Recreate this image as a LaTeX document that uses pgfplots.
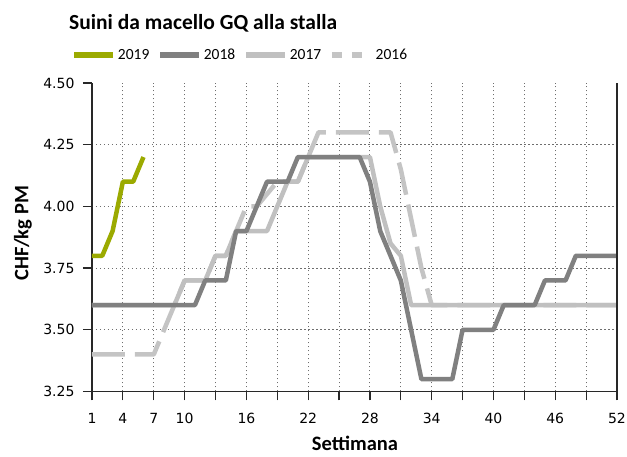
\documentclass[border=0pt]{standalone}
\usepackage{fontspec}
\setmainfont{Carlito}
\newfontfamily\dejavu{DejaVu Sans}
\usepackage{pgfplots}
\pgfplotsset{compat=1.18}

\definecolor{c2019}{RGB}{155,170,0}
\definecolor{c2018}{RGB}{128,128,128}
\definecolor{c2017}{RGB}{192,192,192}
\definecolor{c2016}{RGB}{196,196,196}
\definecolor{gridc}{RGB}{110,110,110}
\definecolor{axc}{RGB}{40,40,40}

\begin{document}
\begin{tikzpicture}
\path[use as bounding box] (-92pt,-65.5pt) rectangle (535pt,391.5pt);
\node[anchor=base west, inner sep=0pt, font=\fontsize{21.5}{24}\selectfont\bfseries] at (-23pt,361.5pt) {Suini da macello GQ alla stalla};
\begin{axis}[
  name=ax,
  scale only axis, width=525pt, height=308.5pt,
  xmin=1, xmax=52, ymin=3.25, ymax=4.5,
  axis x line*=bottom, axis y line*=left,
  axis line style={axc, line width=1.2pt},
  xtick={1,4,...,52},
  xticklabels={1,4,7,10,,16,,22,,28,,34,,40,,46,,52},
  ytick={3.25,3.5,3.75,4,4.25,4.5},
  yticklabel style={xshift=-5pt, /pgf/number format/.cd, fixed, fixed zerofill, precision=2},
  xticklabel style={yshift=-9pt},
  /pgf/number format/assume math mode=true,
  tick label style={font=\dejavu\fontsize{14}{16}\selectfont, black},
  tick align=outside, major tick length=9pt,
  tick style={axc, line width=1.2pt},
  xmajorgrids,
  minor ytick={3.5,3.75,4,4.25}, yminorgrids, minor tick length=0pt,
  grid style={gridc, line width=1pt, dash pattern=on 1.5pt off 2.5pt},
  minor grid style={gridc, line width=1pt, dash pattern=on 1.5pt off 2.5pt},
  xlabel={Settimana}, ylabel={CHF/kg PM},
  every axis x label/.style={at={(axis description cs:0.501,-0.19)}, anchor=base, font=\fontsize{20.5}{24}\selectfont\bfseries},
  every axis y label/.style={at={(axis description cs:-0.1314,0.513)}, rotate=90, anchor=center, font=\fontsize{20.5}{24}\selectfont\bfseries},
  legend columns=4,
  reverse legend,
  legend style={draw=none, fill=none, at={(axis description cs:-0.0395,1.09)}, anchor=west, inner sep=0pt,
    font=\fontsize{15.5}{18}\selectfont, /tikz/every even column/.append style={column sep=6pt}},
  legend image code/.code={\draw[#1, line width=5.5pt] (0pt,0pt) -- (39pt,0pt);},
  every axis plot/.append style={line width=4.5pt, line join=round},
]
\addplot[c2016, dash pattern=on 33pt off 10pt,
  legend image code/.code={\draw[c2016, line width=5.5pt, dash pattern=on 10pt off 10pt] (0pt,0pt) -- (39pt,0pt);}] coordinates {
(1,3.40)(2,3.40)(3,3.40)(4,3.40)(5,3.40)(6,3.40)(7,3.40)(8,3.50)(9,3.60)(10,3.70)
(11,3.70)(12,3.70)(13,3.80)(14,3.80)(15,3.90)(16,4.00)(17,4.00)(18,4.05)(19,4.10)(20,4.10)
(21,4.10)(22,4.20)(23,4.30)(24,4.30)(25,4.30)(26,4.30)(27,4.30)(28,4.30)(29,4.30)(30,4.30)
(31,4.15)(32,3.95)(33,3.75)(34,3.60)(35,3.60)(36,3.60)(37,3.60)(38,3.60)(39,3.60)(40,3.60)
(41,3.60)(42,3.60)(43,3.60)(44,3.60)(45,3.60)(46,3.60)(47,3.60)(48,3.60)(49,3.60)(50,3.60)
(51,3.60)(52,3.60)};
\addlegendentry{2016}
\addplot[c2017] coordinates {
(1,3.60)(2,3.60)(3,3.60)(4,3.60)(5,3.60)(6,3.60)(7,3.60)(8,3.60)(9,3.60)(10,3.70)
(11,3.70)(12,3.70)(13,3.80)(14,3.80)(15,3.90)(16,3.90)(17,3.90)(18,3.90)(19,4.00)(20,4.10)
(21,4.10)(22,4.20)(23,4.20)(24,4.20)(25,4.20)(26,4.20)(27,4.20)(28,4.20)(29,4.00)(30,3.85)
(31,3.80)(32,3.60)(33,3.60)(34,3.60)(35,3.60)(36,3.60)(37,3.60)(38,3.60)(39,3.60)(40,3.60)
(41,3.60)(42,3.60)(43,3.60)(44,3.60)(45,3.60)(46,3.60)(47,3.60)(48,3.60)(49,3.60)(50,3.60)
(51,3.60)(52,3.60)};
\addlegendentry{2017}
\addplot[c2018] coordinates {
(1,3.60)(2,3.60)(3,3.60)(4,3.60)(5,3.60)(6,3.60)(7,3.60)(8,3.60)(9,3.60)(10,3.60)
(11,3.60)(12,3.70)(13,3.70)(14,3.70)(15,3.90)(16,3.90)(17,4.00)(18,4.10)(19,4.10)(20,4.10)
(21,4.20)(22,4.20)(23,4.20)(24,4.20)(25,4.20)(26,4.20)(27,4.20)(28,4.10)(29,3.90)(30,3.80)
(31,3.70)(32,3.50)(33,3.30)(34,3.30)(35,3.30)(36,3.30)(37,3.50)(38,3.50)(39,3.50)(40,3.50)
(41,3.60)(42,3.60)(43,3.60)(44,3.60)(45,3.70)(46,3.70)(47,3.70)(48,3.80)(49,3.80)(50,3.80)
(51,3.80)(52,3.80)};
\addlegendentry{2018}
\addplot[c2019] coordinates {
(1,3.80)(2,3.80)(3,3.90)(4,4.10)(5,4.10)(6,4.20)};
\addlegendentry{2019}
\end{axis}
\draw[axc, line width=1.2pt] (ax.south east) -- (ax.north east);
\end{tikzpicture}
\end{document}
